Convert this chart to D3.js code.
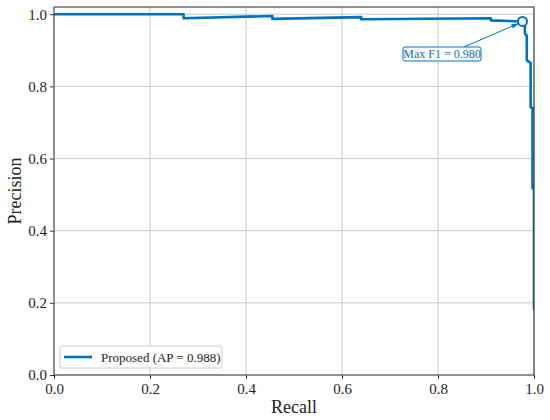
<!DOCTYPE html>
<html>
<head>
<meta charset="utf-8">
<title>PR curve</title>
<script src="https://cdn.jsdelivr.net/npm/d3@7"></script>
<style>
  body { margin: 0; background: #fff; }
  svg text { font-family: "Liberation Serif", "DejaVu Serif", serif; }
  .grid line { stroke: #c8c8c8; stroke-width: 1; }
</style>
</head>
<body>
<div id="chart"></div>
<script>
// precision-recall points
var recall = [0, 0.27, 0.27, 0.455, 0.455, 0.64, 0.64, 0.91, 0.91, 0.976,
              0.981, 0.981, 0.985, 0.985, 0.993, 0.993, 0.997, 0.997, 1.0, 1.0];
var precision = [1.0, 1.0, 0.989, 0.995, 0.987, 0.992, 0.986, 0.989, 0.983, 0.98,
                 0.97, 0.947, 0.94, 0.872, 0.865, 0.742, 0.74, 0.517, 0.517, 0.18];
var ticks = [0, 0.2, 0.4, 0.6, 0.8, 1.0];
var seriesName = "Proposed (AP = 0.988)";
var best = { recall: 0.976, precision: 0.98, label: "Max F1 = 0.980" };

var W = 550, H = 420;
var pLeft = 54, pRight = 534, pTop = 7, pBottom = 375;
var blue = "#0072bd";

var svg = d3.select("#chart").append("svg")
    .attr("width", W).attr("height", H);

var x = d3.scaleLinear().domain([0, 1]).range([pLeft, pRight]);
var y = d3.scaleLinear().domain([0, 1.02]).range([pBottom, pTop]);

// grid
svg.append("g").attr("class", "grid")
   .selectAll("line").data(ticks.slice(1)).enter().append("line")
   .attr("x1", function(d){ return x(d); }).attr("x2", function(d){ return x(d); })
   .attr("y1", pTop).attr("y2", pBottom);
svg.append("g").attr("class", "grid")
   .selectAll("line").data(ticks.slice(1)).enter().append("line")
   .attr("y1", function(d){ return y(d); }).attr("y2", function(d){ return y(d); })
   .attr("x1", pLeft).attr("x2", pRight);

svg.append("clipPath").attr("id", "plotclip")
   .append("rect").attr("x", pLeft).attr("y", pTop)
   .attr("width", pRight - pLeft).attr("height", pBottom - pTop);

var pts = recall.map(function(r, i){ return [r, precision[i]]; });
var line = d3.line().x(function(d){ return x(d[0]); }).y(function(d){ return y(d[1]); });

svg.append("path").datum(pts)
   .attr("d", line)
   .attr("fill", "none")
   .attr("stroke", blue)
   .attr("stroke-width", 2.6)
   .attr("stroke-linejoin", "round")
   .attr("clip-path", "url(#plotclip)");

// axes
var fmt = d3.format(".1f");
var xAxis = svg.append("g").attr("transform", "translate(0," + pBottom + ")")
   .call(d3.axisBottom(x).tickValues(ticks).tickFormat(fmt).tickSize(4).tickSizeOuter(0));
var yAxis = svg.append("g").attr("transform", "translate(" + pLeft + ",0)")
   .call(d3.axisLeft(y).tickValues(ticks).tickFormat(fmt).tickSize(4).tickSizeOuter(0));
[xAxis, yAxis].forEach(function(a){
  a.select(".domain").remove();
  a.selectAll("line").attr("stroke", "#333");
  a.selectAll("text").attr("font-size", 15).attr("fill", "#222")
   .style("font-family", "'Liberation Serif', serif");
});
xAxis.selectAll("text").attr("dy", "0.8em");

// frame
svg.append("rect").attr("x", pLeft).attr("y", pTop)
   .attr("width", pRight - pLeft).attr("height", pBottom - pTop)
   .attr("fill", "none").attr("stroke", "#444").attr("stroke-width", 1.2);

svg.append("text").attr("x", (pLeft + pRight) / 2).attr("y", 413)
   .attr("text-anchor", "middle").attr("font-size", 18).attr("fill", "#222")
   .text("Recall");
svg.append("text")
   .attr("transform", "translate(21," + ((pTop + pBottom) / 2) + ") rotate(-90)")
   .attr("text-anchor", "middle").attr("font-size", 18).attr("fill", "#222")
   .text("Precision");

// max F1 marker + annotation
var mx = x(best.recall), my = y(best.precision);
var bx = 403, by = 47, bw = 78, bh = 14;
var ax = 464, tx = mx - 4, ty = my + 2;
svg.append("line").attr("x1", ax).attr("y1", by)
   .attr("x2", tx).attr("y2", ty)
   .attr("stroke", blue).attr("stroke-width", 1);
svg.append("path")
   .attr("d", "M0,0 L-7,-2.5 L-7,2.5 Z")
   .attr("fill", blue)
   .attr("transform", "translate(" + tx + "," + ty + ") rotate(" +
         (Math.atan2(ty - by, tx - ax) * 180 / Math.PI) + ")");
svg.append("rect").attr("x", bx).attr("y", by).attr("width", bw).attr("height", bh)
   .attr("rx", 2).attr("fill", "#fff").attr("stroke", blue).attr("stroke-width", 1);
svg.append("text").attr("x", bx + bw / 2).attr("y", by + bh - 3.5)
   .attr("text-anchor", "middle").attr("font-size", 12).attr("fill", blue)
   .text(best.label);
svg.append("circle").attr("cx", mx).attr("cy", my).attr("r", 4.5)
   .attr("fill", "#fff").attr("stroke", blue).attr("stroke-width", 2);

// legend
var lg = svg.append("g");
lg.append("rect").attr("x", 60).attr("y", 346).attr("width", 162).attr("height", 22)
  .attr("rx", 2).attr("fill", "#fff").attr("stroke", "#ccc");
lg.append("line").attr("x1", 64).attr("x2", 92).attr("y1", 357).attr("y2", 357)
  .attr("stroke", blue).attr("stroke-width", 2.6);
lg.append("text").attr("x", 101).attr("y", 361.5).attr("font-size", 13).attr("fill", "#222")
  .text(seriesName);
</script>
</body>
</html>
